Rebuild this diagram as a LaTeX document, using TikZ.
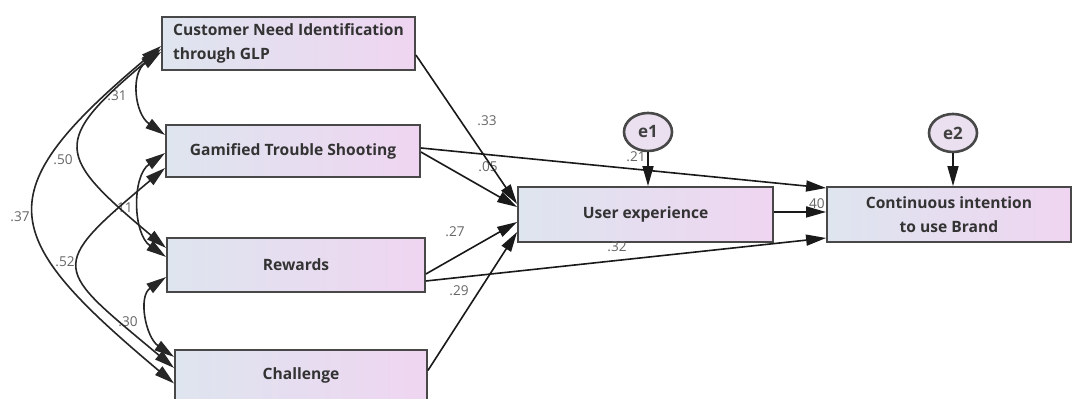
\documentclass[tikz,border=0pt]{standalone}
\usepackage{fontspec}
\setsansfont{Open Sans}
\usetikzlibrary{arrows.meta,shapes.geometric}

\definecolor{boxl}{HTML}{DEE5EF}
\definecolor{boxr}{HTML}{EFD5F1}
\definecolor{errfill}{HTML}{EAE0EF}
\definecolor{linegray}{HTML}{484848}

\tikzset{
  var/.style={draw=linegray, line width=0.9pt, left color=boxl, right color=boxr,
    font=\sffamily\bfseries\fontsize{7.8}{12.2}\selectfont, text=black!80, inner sep=2pt},
  err/.style={ellipse, draw=linegray, line width=1.3pt, fill=errfill,
    minimum width=24pt, minimum height=19pt, inner sep=0pt,
    font=\sffamily\bfseries\fontsize{8.5}{9}\selectfont, text=black!75},
  reg/.style={-{Triangle[length=10pt,width=5.5pt]}, line width=0.8pt, black!90},
  cov/.style={{Triangle[length=10pt,width=5.5pt]}-{Triangle[length=10pt,width=5.5pt]},
    line width=0.8pt, black!85},
  coef/.style={font=\sffamily\fontsize{6.8}{7}\selectfont, text=black!60, inner sep=0pt}
}

\begin{document}
\begin{tikzpicture}[x=0.5pt,y=0.5pt]

\path[use as bounding box, fill=white] (0,0) rectangle (1072,-399);

% Exogenous
\node[var, minimum width=126.5pt, minimum height=26.5pt, align=left] (cni) at (288.5,-43.5)
{Customer Need Identification\\through GLP};
\node[var, minimum width=127pt, minimum height=26pt] (gts) at (293,-151)
{Gamified Trouble Shooting};
\node[var, minimum width=129pt, minimum height=27pt] (rew) at (296,-265)
{Rewards};
\node[var, minimum width=126pt, minimum height=25.5pt] (cha) at (301,-375.5)
{Challenge};

% Endogenous
\node[var, minimum width=127.5pt, minimum height=27.5pt] (ux) at (645.5,-214.5)
{User experience};
\node[var, minimum width=122pt, minimum height=27.5pt, align=center] (cit) at (949,-214.5)
{Continuous intention\\to use Brand};

% Errors
\node[err] (e1) at (648,-132) {e1};
\node[err] (e2) at (953,-133) {e2};

% Estimates
\foreach \x/\y/\t/\n in {
487/121/.33/b1, 488/167/.05/b2, 455/232/.27/b3,
617/247/.32/b4, 459/291/.29/b5, 815/204/.40/b6,
636/157/.21/r1,
117/96/.31/c1, 63/160/.50/c2, 20/217/.37/c3,
123/208/.11/c4, 65/262/.52/c5, 128/322/.30/c6
}
{
\node[coef] (\n) at (\x,-\y) {\t};
}

% Covariances
\draw[cov] ([yshift=-1.25pt]cni.west) to[out=220,in=140,looseness=1.74] ([yshift=-4pt]cha.west);
\draw[cov] ([yshift=-2.75pt]cni.west) to[out=220,in=140,looseness=1.85] ([yshift=8.5pt]rew.west);
\draw[cov] ([yshift=-4.25pt]cni.west) to[out=215,in=145,looseness=1.15] ([yshift=8pt]gts.west);
\draw[cov] ([yshift=-1pt]gts.west) to[out=215,in=145,looseness=1.0] ([yshift=4pt]rew.west);
\draw[cov] ([yshift=-8.5pt]gts.west) to[out=220,in=140,looseness=2.0] ([yshift=3.75pt]cha.west);
\draw[cov] ([yshift=-6pt]rew.west) to[out=215,in=145,looseness=1.1] ([yshift=9.25pt]cha.west);

% Paths
\draw[reg] ([yshift=-5.75pt]cni.east) -- ([yshift=5.25pt]ux.west);
\draw[reg] ([yshift=-0.5pt]gts.east) -- ([yshift=3.75pt]ux.west);
\draw[reg] ([yshift=1.5pt]gts.east) -- ([yshift=13.25pt]cit.west);
\draw[reg] ([yshift=-4.5pt]rew.east) -- ([yshift=-3.75pt]ux.west);
\draw[reg] ([yshift=-8pt]rew.east) -- ([yshift=-11.75pt]cit.west);
\draw[reg] ([yshift=2.5pt]cha.east) -- ([yshift=-8.75pt]ux.west);
\draw[reg] ([yshift=1.25pt]ux.east) -- ([yshift=1.25pt]cit.west);

\draw[reg] (e1.south) -- (e1.south |- ux.north);
\draw[reg] (e2.south) -- (e2.south |- cit.north);

\end{tikzpicture}
\end{document}
